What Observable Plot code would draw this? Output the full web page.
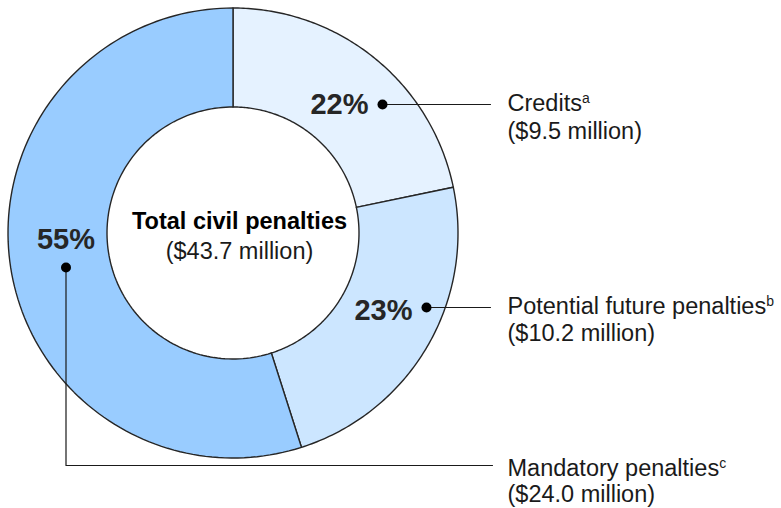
<!DOCTYPE html>
<html>
<head>
<meta charset="utf-8">
<script src="https://cdn.jsdelivr.net/npm/d3@7"></script>
<script src="https://cdn.jsdelivr.net/npm/@observablehq/plot@0.6"></script>
<style>
  html, body { margin: 0; padding: 0; background: #fff; }
  #chart svg { display: block; }
</style>
</head>
<body>
<div id="chart"></div>
<script>
// ---- data ----
const categories = ["Credits", "Potential future penalties", "Mandatory penalties"];
const amounts = [9.5, 10.2, 24.0];              // $ million
const percentLabels = ["22%", "23%", "55%"];
const amountLabels = ["($9.5 million)", "($10.2 million)", "($24.0 million)"];
const footnotes = ["a", "b", "c"];
const totalTitle = "Total civil penalties";
const totalLabel = "($43.7 million)";

// ---- layout (chart coordinates: origin at donut center, y downward) ----
const colors = ["#e5f2ff", "#cce6ff", "#99ccff"];
const outerR = 225, innerR = 126;
const dotPos = [[149, -129], [193, 74], [-167.5, 34]];
const pctPos = [[135, -129, "end"], [179, 77, "end"], [-167.5, 6, "middle"]];
const leaderEnds = [[[257, -129]], [[257, 74]], [[-167.5, 232], [259, 232]]];
const labelX = 274;
const labelY = [[-130, -102], [73, 100], [235, 261]];

// ---- build slices through d3.pie ----
const pie = d3.pie().sort(null)(amounts);
const ringRows = [];
pie.forEach((p, i) => {
  const n = 120;
  for (let k = 0; k <= n; k++) {
    const a = p.startAngle + (p.endAngle - p.startAngle) * k / n;
    ringRows.push({
      cat: categories[i],
      ox: outerR * Math.sin(a), oy: -outerR * Math.cos(a),
      ix: innerR * Math.sin(a), iy: -innerR * Math.cos(a)
    });
  }
});

const leaderRows = [];
categories.forEach((c, i) => {
  leaderRows.push({cat: c, x: dotPos[i][0], y: dotPos[i][1]});
  leaderEnds[i].forEach(([x, y]) => leaderRows.push({cat: c, x, y}));
});

const idx = categories.map((_, i) => i);
const font = "'Liberation Sans', Arial, Helvetica, sans-serif";
const ink = "#1a1a1a";
const labelSize = 23.5;
const pctSize = 29;

const pctText = (anchor) => Plot.text(idx.filter(i => pctPos[i][2] === anchor), {
  x: i => pctPos[i][0], y: i => pctPos[i][1], text: i => percentLabels[i],
  textAnchor: anchor, fontWeight: "bold", fontSize: pctSize, fill: "#262626"
});

const chart = Plot.plot({
  width: 781,
  height: 508,
  margin: 0,
  style: {fontFamily: font, background: "#fff"},
  x: {domain: [-233, 548], range: [0, 781], axis: null},
  y: {domain: [-233, 275], range: [0, 508], axis: null},
  color: {domain: categories, range: colors},
  marks: [
    Plot.area(ringRows, {
      x1: "ox", y1: "oy", x2: "ix", y2: "iy", z: "cat",
      fill: "cat", stroke: "#262626", strokeWidth: 1.4, curve: "linear"
    }),
    Plot.line(leaderRows, {x: "x", y: "y", z: "cat", stroke: ink, strokeWidth: 1.2, curve: "linear"}),
    Plot.dot(idx, {x: i => dotPos[i][0], y: i => dotPos[i][1], r: 5, fill: "#000", stroke: "none"}),
    pctText("end"),
    pctText("middle"),
    Plot.text(idx, {
      x: labelX, y: i => labelY[i][0], text: i => categories[i],
      textAnchor: "start", fontSize: labelSize, fill: ink
    }),
    Plot.text(idx, {
      x: labelX, y: i => labelY[i][1], text: i => amountLabels[i],
      textAnchor: "start", fontSize: labelSize, fill: ink
    }),
    Plot.text([totalTitle], {x: 6, y: -12, text: d => d, fontWeight: "bold", fontSize: labelSize, fill: "#000"}),
    Plot.text([totalLabel], {x: 6, y: 18, text: d => d, fontSize: labelSize, fill: ink})
  ]
});

// superscript footnote letters after each category name
d3.select(chart).selectAll("text").each(function() {
  const j = categories.indexOf(this.textContent);
  if (j >= 0) {
    d3.select(this).append("tspan")
      .attr("dy", "-0.55em")
      .attr("font-size", 14)
      .text(footnotes[j]);
  }
});

document.getElementById("chart").appendChild(chart);
</script>
</body>
</html>
